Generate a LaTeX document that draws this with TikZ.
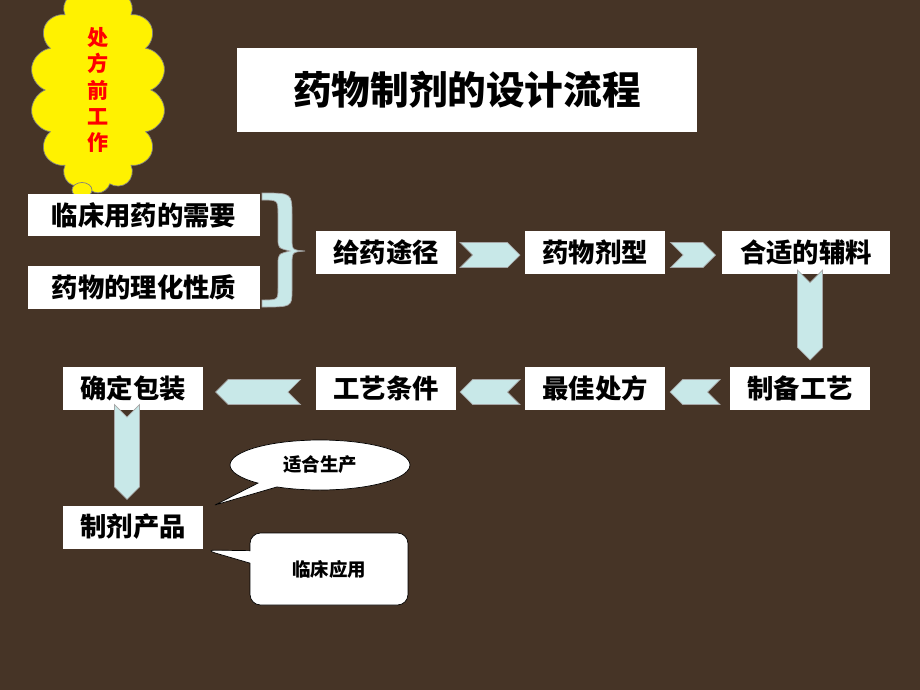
\documentclass[tikz,border=0pt]{standalone}
\usepackage{fontspec}
\setmainfont{Noto Sans CJK SC}
\usetikzlibrary{positioning,shapes.symbols,shapes.callouts,shapes.geometric}
\definecolor{wood}{RGB}{70,52,38}
\definecolor{paleaqua}{RGB}{200,232,232}
\tikzset{
  box/.style={fill=white, font=\bfseries\fontsize{15}{17}\selectfont, inner sep=0pt, minimum height=8.6mm},
  chevr/.style={signal, draw=gray!70, fill=paleaqua, minimum width=12mm, minimum height=5mm, inner sep=0pt},
  note/.style={draw=black, fill=white, font=\bfseries\fontsize{10.5}{12}\selectfont}
}
\begin{document}
\begin{tikzpicture}[x=0.02cm, y=-0.02cm]
  \fill[wood] (0,0) rectangle (920,690);
  \useasboundingbox (0,0) rectangle (920,690);
  % title
  \node[fill=white, minimum width=92.2mm, minimum height=17mm, font=\bfseries\fontsize{22}{26}\selectfont] (title) at (467,90) {药物制剂的设计流程};
  % cloud
  \node[cloud, cloud puffs=14, aspect=0.55, draw=gray, fill=yellow, inner sep=3pt, font=\bfseries\fontsize{12}{15}\selectfont, text=red, align=center] (pre) at (98,90) {处\\方\\前\\工\\作};
  \node[ellipse, draw=gray, fill=yellow, minimum width=4mm, minimum height=3mm, inner sep=0pt] (b1) at (82,190) {};
  \node[ellipse, draw=gray, fill=yellow, minimum width=3mm, minimum height=2mm, inner sep=0pt] (b2) at (76,200) {};
  % boxes
  \node[box, minimum width=46.4mm] (need) at (144,215) {临床用药的需要};
  \node[box, minimum width=46.4mm] (prop) at (144,287) {药物的理化性质};
  \node[box, minimum width=28mm] (route) at (386,252) {给药途径};
  \node[box, minimum width=28mm] (form) at (595,252) {药物剂型};
  \node[box, minimum width=33.6mm] (exc) at (806,252) {合适的辅料};
  \node[box, minimum width=28mm] (proc) at (800,388) {制备工艺};
  \node[box, minimum width=28mm] (rx) at (595,388) {最佳处方};
  \node[box, minimum width=28mm] (cond) at (386,388) {工艺条件};
  \node[box, minimum width=28mm] (pack) at (133,388) {确定包装};
  \node[box, minimum width=28mm] (prod) at (133,527) {制剂产品};
  % brace
  \fill[paleaqua, draw=gray!70] (262,193) .. controls (292,193) .. (292,215) -- (292,238) .. controls (292,250) .. (305,251)
    .. controls (292,252) .. (292,265) -- (292,290) .. controls (292,307) .. (262,307)
    -- (262,300) .. controls (278,300) .. (278,288) -- (278,265) .. controls (278,254) .. (290,251)
    .. controls (278,248) .. (278,238) -- (278,215) .. controls (278,200) .. (262,200) -- cycle;
  % chevrons
  \node[chevr, signal to=east, signal from=west] (c1) at (490,255) {};
  \node[chevr, signal to=east, signal from=west, minimum width=9mm] (c2) at (693,255) {};
  \node[chevr, signal to=south, signal from=north, minimum width=5mm, minimum height=13mm] (c3) at (810,315) {};
  \node[chevr, signal to=west, signal from=east, minimum width=10mm] (c4) at (695,392) {};
  \node[chevr, signal to=west, signal from=east] (c5) at (490,392) {};
  \node[chevr, signal to=west, signal from=east, minimum width=17mm] (c6) at (258,392) {};
  \node[chevr, signal to=south, signal from=north, minimum width=5mm, minimum height=14mm] (c7) at (127,452) {};
  % callouts
  \node[note, ellipse callout, minimum width=36mm, minimum height=10mm, callout absolute pointer={(215,505)}] (fit) at (320,465) {适合生产};
  \node[note, rectangle callout, rounded corners=6pt, minimum width=31.6mm, minimum height=14.4mm, callout absolute pointer={(205,550)}] (use) at (329,569) {临床应用};
\end{tikzpicture}
\end{document}
